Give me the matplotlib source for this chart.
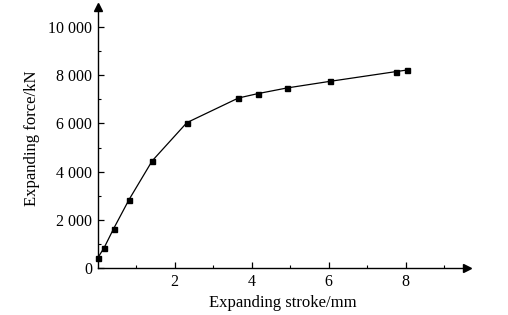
import matplotlib.pyplot as plt
from matplotlib.ticker import MultipleLocator, FuncFormatter

# data
stroke = [0.0, 0.17, 0.42, 0.82, 1.42, 2.32, 3.66, 4.16, 4.92, 6.04, 7.74, 8.05]
force = [420, 850, 1650, 2850, 4450, 6030, 7050, 7230, 7465, 7740, 8140, 8210]

plt.rcParams['font.family'] = ['Liberation Serif', 'DejaVu Serif']

fig = plt.figure(figsize=(5.08, 3.15), dpi=100)
ax = fig.add_axes([0.192, 0.148, 0.7276, 0.8286])

ax.plot(stroke, force, color='black', linewidth=0.9, marker='s',
        markersize=3.6, clip_on=False, zorder=3)

ax.set_xlim(0, 9.6)
ax.set_ylim(0, 10800)

# axis look: only left/bottom with arrows
ax.spines['top'].set_visible(False)
ax.spines['right'].set_visible(False)
ax.spines['left'].set_linewidth(1.0)
ax.spines['bottom'].set_linewidth(1.0)
ax.plot(1, 0, '>k', markersize=6, transform=ax.get_yaxis_transform(), clip_on=False)
ax.plot(0, 1, '^k', markersize=6, transform=ax.get_xaxis_transform(), clip_on=False)

ax.set_xticks([2, 4, 6, 8])
ax.set_xticks([1, 3, 5, 7, 9], minor=True)
ax.set_yticks([0, 2000, 4000, 6000, 8000, 10000])
ax.yaxis.set_minor_locator(MultipleLocator(1000))

ax.yaxis.set_major_formatter(FuncFormatter(lambda v, p: f'{int(v):,}'.replace(',', ' ')))
ax.tick_params(direction='in', which='major', length=4, width=0.9, labelsize=11.5, pad=4)
ax.tick_params(direction='in', which='minor', length=2.5, width=0.8)

ax.set_xlabel('Expanding stroke/mm', fontsize=12, labelpad=4)
ax.set_ylabel('Expanding force/kN', fontsize=12, labelpad=6)

fig.savefig('out.png', dpi=100)
